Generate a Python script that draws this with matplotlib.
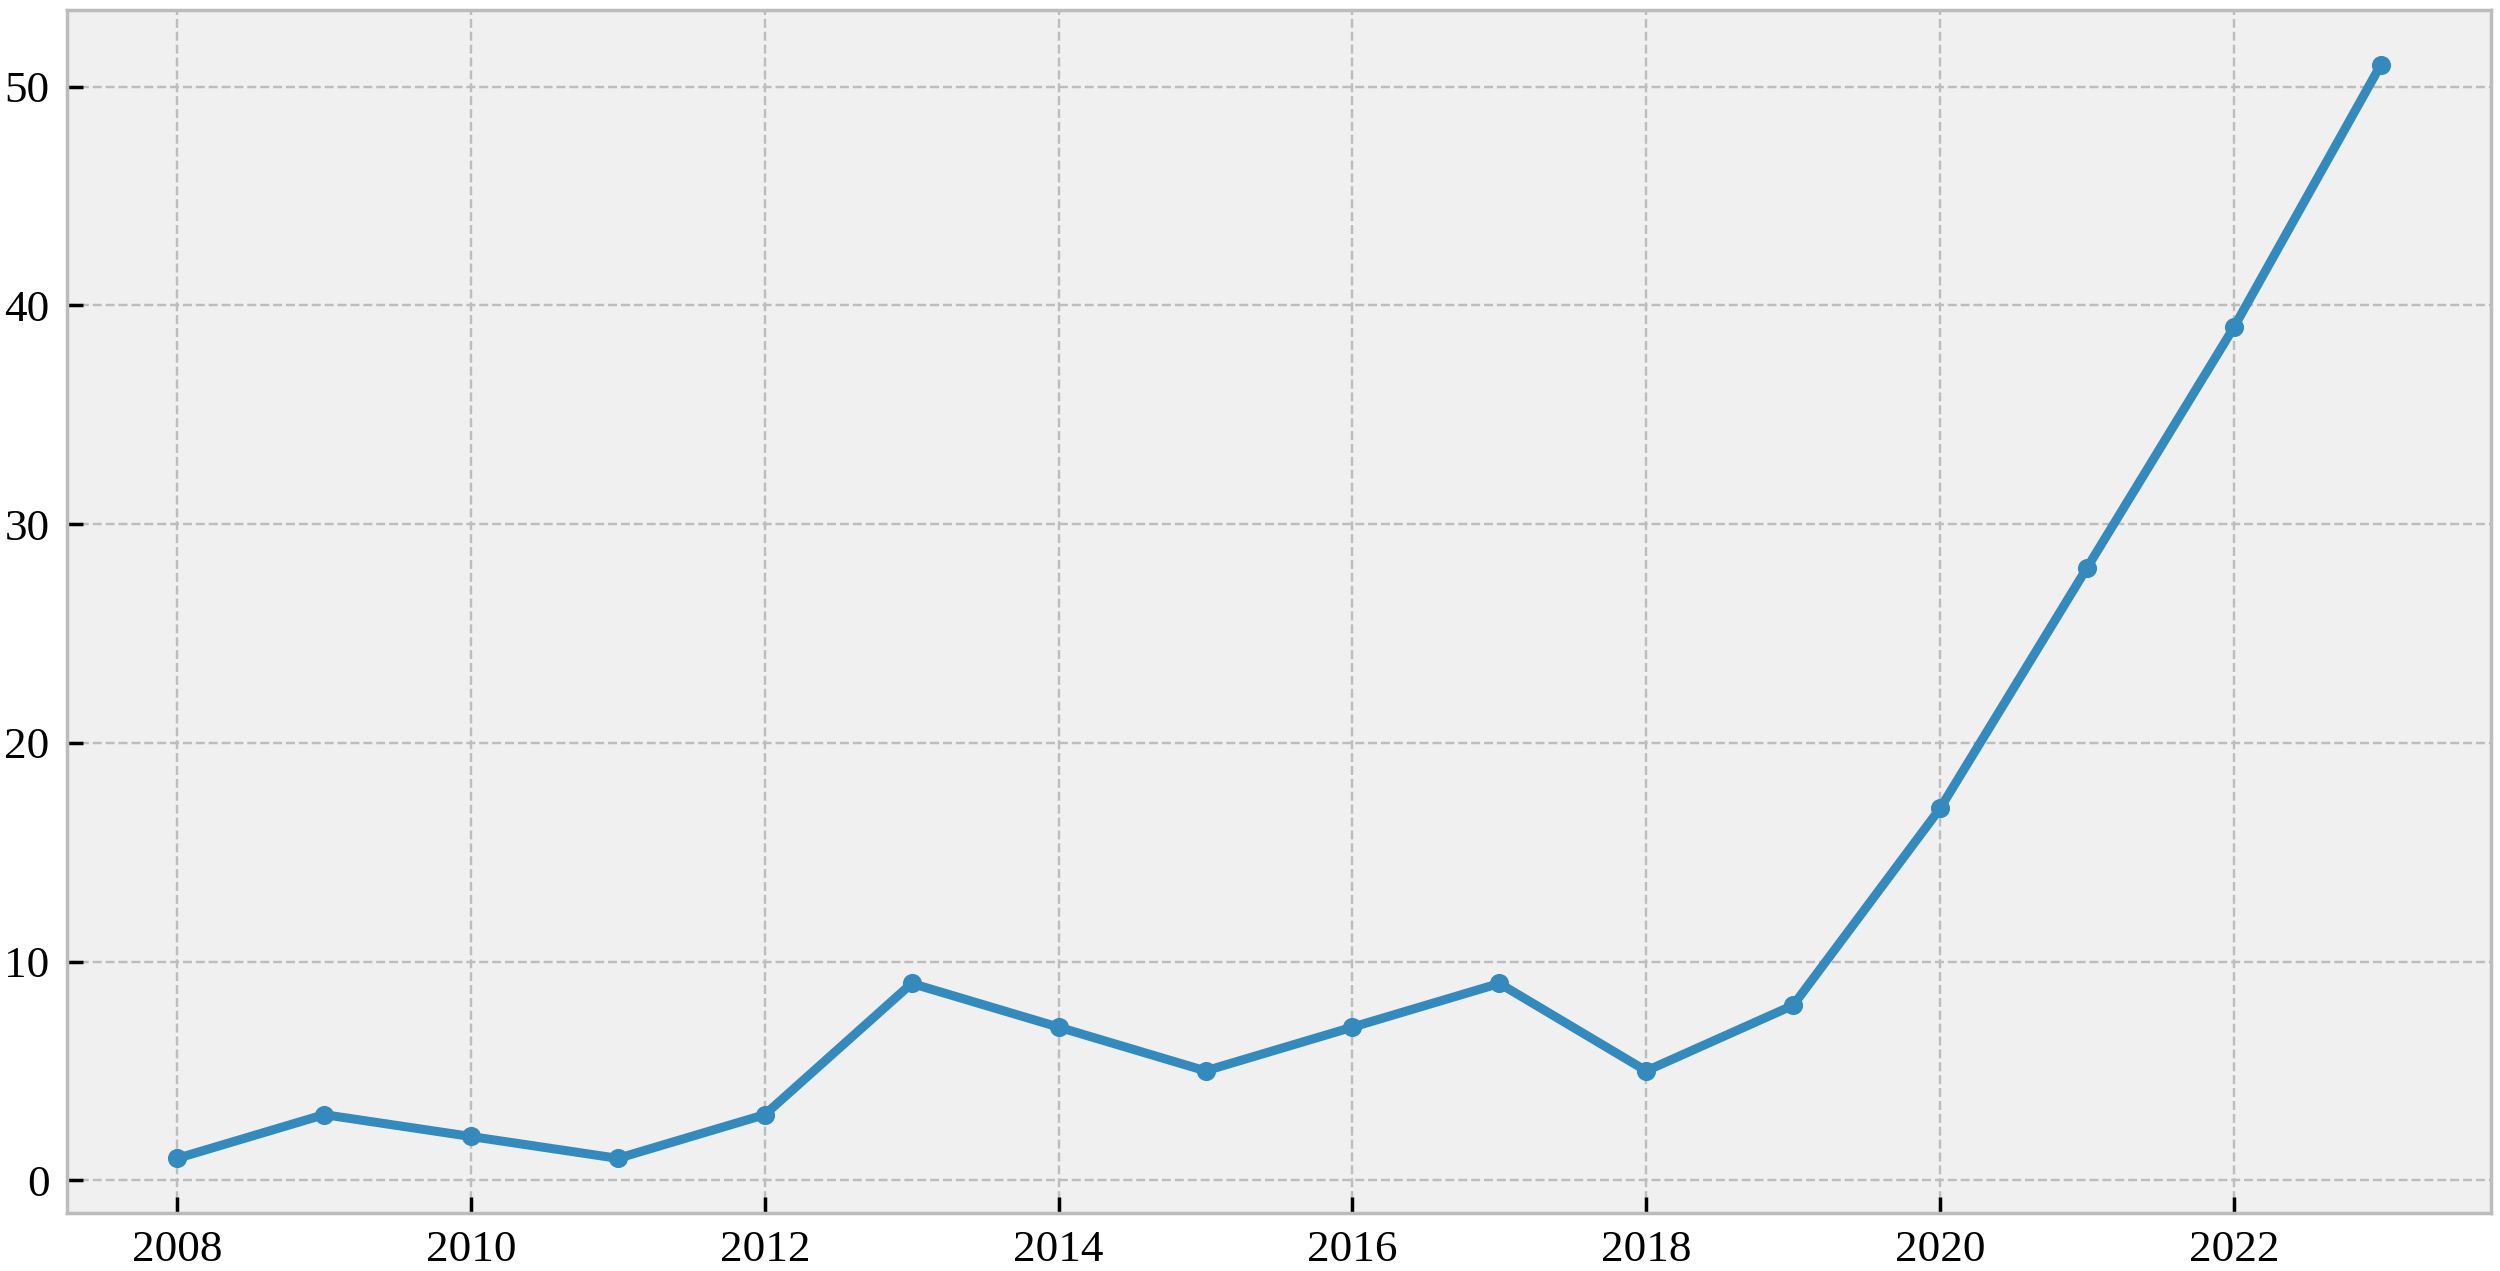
import matplotlib
matplotlib.use('Agg')
import matplotlib.pyplot as plt

years = [2008, 2009, 2010, 2011, 2012, 2013, 2014, 2015,
         2016, 2017, 2018, 2019, 2020, 2021, 2022, 2023]
counts = [1, 3, 2, 1, 3, 9, 7, 5, 7, 9, 5, 8, 17, 28, 39, 51]

plt.style.use('bmh')
plt.rcParams['font.family'] = ['Liberation Serif', 'DejaVu Serif']

fig = plt.figure(figsize=(10, 5.084), dpi=250)
ax = fig.add_axes([0.0268, 0.0456, 0.9696, 0.9464])
ax.set_facecolor('#f0f0f0')

ax.plot(years, counts, color='#348ABD', linewidth=2.6, marker='o', markersize=4.5)

ax.set_xticks(range(2008, 2024, 2))
ax.set_yticks(range(0, 51, 10))
ax.tick_params(direction='in', length=4.5, width=1, labelsize=13, colors='black', pad=5)
ax.grid(True, linestyle='--', color='#bdbdbd', linewidth=0.7)
for s in ax.spines.values():
    s.set_color('#bcbcbc')
    s.set_linewidth(1)

fig.savefig('out.png', dpi=250)
